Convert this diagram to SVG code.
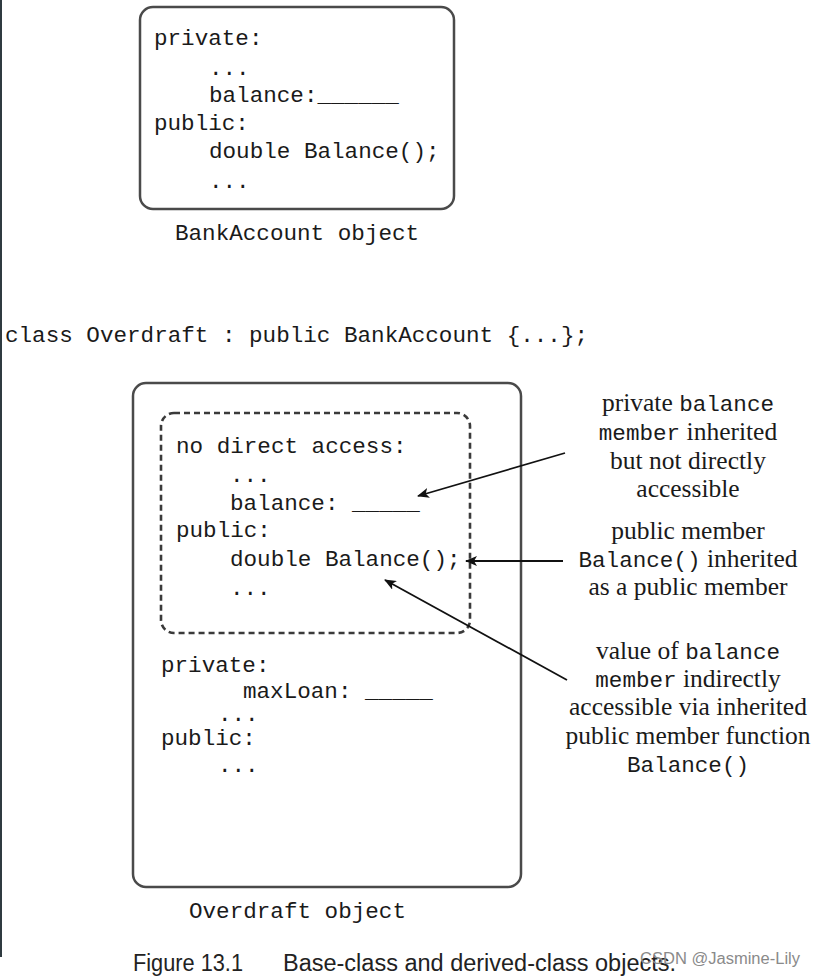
<svg xmlns="http://www.w3.org/2000/svg" width="814" height="977" viewBox="0 0 814 977">
<style>
.m{font-family:"Liberation Mono","DejaVu Sans Mono",monospace;font-size:22.6px;fill:#1a1a1a}
.s{font-family:"Liberation Serif","Times New Roman",serif;font-size:25.5px;fill:#1a1a1a}
.box{fill:none;stroke:#4a4a4a;stroke-width:2.5}
.dash{fill:none;stroke:#3a3a3a;stroke-width:2.6;stroke-dasharray:6 4}
.ar{stroke:#111;stroke-width:1.8;fill:none;marker-end:url(#ah)}
.cap{font-family:"Liberation Sans","Arial",sans-serif;font-size:23px;fill:#222}
</style>
<defs>
<marker id="ah" viewBox="0 0 12 10" refX="11" refY="5" markerWidth="12" markerHeight="10" markerUnits="userSpaceOnUse" orient="auto">
<path d="M0,0 L12,5 L0,10 L3,5 Z" fill="#111"/>
</marker>
</defs>
<rect width="814" height="977" fill="#fff"/>
<line x1="1" y1="0" x2="1" y2="957" stroke="#2f3a40" stroke-width="2"/>

<g id="bankaccount">
<rect class="box" x="140" y="7" width="314" height="202" rx="13"/>
<text class="m" x="154" y="45">private:</text>
<text class="m" x="209" y="75">...</text>
<text class="m" x="209" y="102">balance:______</text>
<text class="m" x="154" y="130">public:</text>
<text class="m" x="209" y="158">double Balance();</text>
<text class="m" x="209" y="188">...</text>
<text class="m" x="175" y="240">BankAccount object</text>
</g>

<g id="classdecl">
<text class="m" x="5" y="342">class Overdraft : public BankAccount {...};</text>
</g>

<g id="overdraft">
<rect class="box" x="133" y="383" width="388" height="504" rx="13"/>
<rect class="dash" x="161" y="413" width="309" height="220" rx="13"/>
<text class="m" x="176" y="453">no direct access:</text>
<text class="m" x="230" y="482">...</text>
<text class="m" x="230" y="510">balance: _____</text>
<text class="m" x="176" y="537">public:</text>
<text class="m" x="230" y="566">double Balance();</text>
<text class="m" x="230" y="595">...</text>
<text class="m" x="161" y="672">private:</text>
<text class="m" x="243" y="698">maxLoan: _____</text>
<text class="m" x="218" y="721">...</text>
<text class="m" x="161" y="745">public:</text>
<text class="m" x="218" y="772">...</text>
<text class="m" x="189" y="918">Overdraft object</text>
</g>

<g id="note1">
<text class="s" x="688" y="411" text-anchor="middle">private <tspan class="m">balance</tspan></text>
<text class="s" x="688" y="440" text-anchor="middle"><tspan class="m">member</tspan> inherited</text>
<text class="s" x="688" y="469" text-anchor="middle">but not directly</text>
<text class="s" x="688" y="497" text-anchor="middle">accessible</text>
</g>
<g id="note2">
<text class="s" x="688" y="539" text-anchor="middle">public member</text>
<text class="s" x="688" y="567" text-anchor="middle"><tspan class="m">Balance()</tspan> inherited</text>
<text class="s" x="688" y="595" text-anchor="middle">as a public member</text>
</g>
<g id="note3">
<text class="s" x="688" y="659" text-anchor="middle">value of <tspan class="m">balance</tspan></text>
<text class="s" x="688" y="687" text-anchor="middle"><tspan class="m">member</tspan> indirectly</text>
<text class="s" x="688" y="715" text-anchor="middle">accessible via inherited</text>
<text class="s" x="688" y="744" text-anchor="middle">public member function</text>
<text class="m" x="688" y="772" text-anchor="middle">Balance()</text>
</g>

<g id="connectors">
<line class="ar" x1="565" y1="453" x2="418" y2="496"/>
<line class="ar" x1="563" y1="561" x2="466" y2="561"/>
<line class="ar" x1="567" y1="680" x2="385" y2="580"/>
</g>

<g id="caption">
<text class="cap" x="133" y="971" textLength="110" lengthAdjust="spacingAndGlyphs">Figure 13.1</text>
<text class="cap" x="283" y="971" textLength="393" lengthAdjust="spacingAndGlyphs">Base-class and derived-class objects.</text>
<text x="640" y="964" font-family="Liberation Sans, Arial, sans-serif" font-size="16" fill="#8a8a8a" textLength="160" lengthAdjust="spacingAndGlyphs">CSDN @Jasmine-Lily</text>
</g>
</svg>
